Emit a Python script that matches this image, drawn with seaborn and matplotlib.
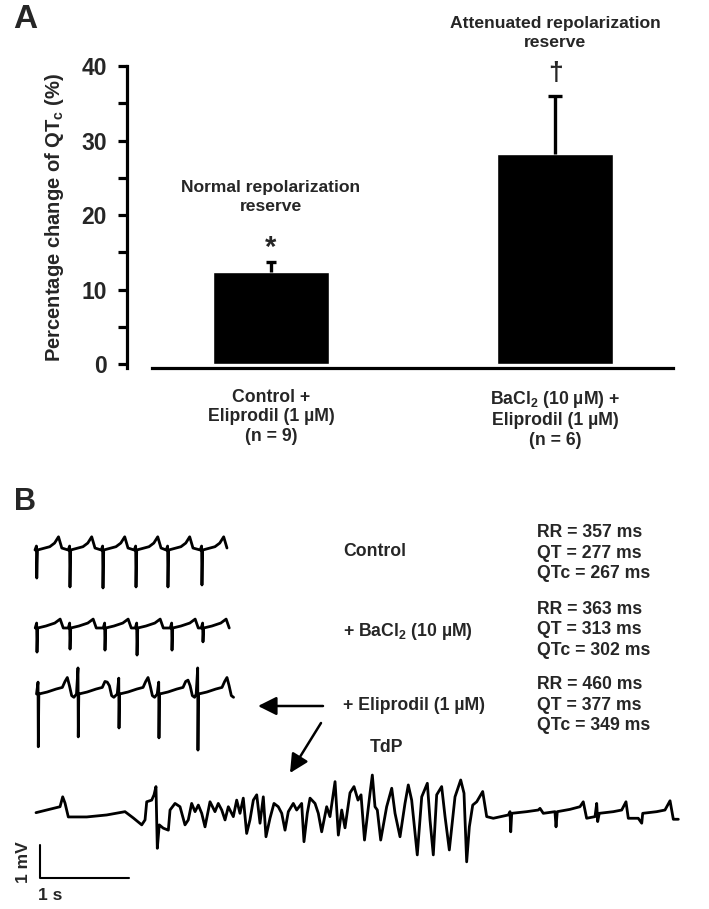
import numpy as np
import matplotlib
matplotlib.use("Agg")
import matplotlib.pyplot as plt
import seaborn as sns

# ---- Panel A data ----
categories = ["Control +\nEliprodil (1 \u00b5M)\n(n = 9)",
              "BaCl$_\\mathrm{2}$ (10 \u00b5M) +\nEliprodil (1 \u00b5M)\n(n = 6)"]
qtc_change = [12.4, 28.2]
qtc_sem = [1.3, 7.8]
y_ticks = [0, 10, 20, 30, 40]
y_minor = [5, 15, 25, 35]

# ---- Panel B data (time in s, voltage in mV relative to baseline) ----
# control: beat template around each R wave
ctrl_r_times = [0.02, 0.393, 0.764, 1.135, 1.494, 1.876]
ctrl_r_depth = [-0.85, -1.12, -1.15, -1.12, -1.12, -1.06]
ctrl_t_amp = [0.40, 0.40, 0.40, 0.40, 0.40, 0.40]
ctrl_tmpl_t = [-0.02, -0.004, 0.0, 0.008, 0.146, 0.20, 0.244, 0.281]
ctrl_tmpl_v = [0.0, 0.12, "bot", 0.0, 0.10, 0.21, "T", 0.06]

# BaCl2
ba_r_times = [0.045, 0.416, 0.809, 1.169, 1.562, 1.910]
ba_r_depth = [-0.73, -0.64, -0.67, -0.82, -0.67, -0.42]
ba_t_amp = [0.27, 0.27, 0.27, 0.27, 0.27, 0.27]
ba_tmpl_t = [-0.02, -0.004, 0.0, 0.008, 0.10, 0.20, 0.26, 0.295]
ba_tmpl_v = [0.0, 0.15, "bot", 0.0, 0.06, 0.15, "T", 0.0]

# BaCl2 + eliprodil
eli_r_times = [0.082, 0.531, 0.989, 1.438, 1.876]
eli_r_top = [0.36, 0.79, 0.48, 0.36, 0.79]
eli_r_depth = [-1.6, -1.3, -1.03, -1.33, -1.7]
eli_t_amp = [0.5, 0.36, 0.5, 0.42, 0.5]
eli_tmpl_t = [-0.02, -0.003, 0.0, 0.006, 0.10, 0.20, 0.27, 0.30, 0.326, 0.35, 0.375, 0.40]
eli_tmpl_v = [0.0, "top", "bot", 0.0, 0.06, 0.15, 0.2, 0.38, "T", 0.25, -0.05, -0.1]

# torsade de pointes episode
tdp_t = [0.000, 0.120, 0.270, 0.300, 0.326, 0.363, 0.570, 0.794, 1.000, 1.093,
         1.188, 1.225, 1.244, 1.300, 1.326, 1.348, 1.363, 1.385, 1.430, 1.487,
         1.506, 1.562, 1.618, 1.674, 1.711, 1.749, 1.787, 1.824, 1.862, 1.899,
         1.955, 2.011, 2.048, 2.087, 2.124, 2.161, 2.217, 2.255, 2.292, 2.329,
         2.367, 2.404, 2.442, 2.480, 2.517, 2.554, 2.584, 2.629, 2.674, 2.722,
         2.761, 2.798, 2.835, 2.891, 2.929, 2.985, 3.011, 3.048, 3.079, 3.135,
         3.172, 3.210, 3.266, 3.303, 3.360, 3.397, 3.435, 3.472, 3.528, 3.573,
         3.618, 3.652, 3.691, 3.753, 3.779, 3.809, 3.835, 3.873, 3.940, 3.997,
         4.034, 4.090, 4.146, 4.183, 4.221, 4.284, 4.334, 4.397, 4.427, 4.464,
         4.502, 4.558, 4.596, 4.644, 4.708, 4.772, 4.809, 4.839, 4.869, 4.907,
         4.952, 5.019, 5.064, 5.138, 5.307, 5.326, 5.334, 5.345, 5.513, 5.644,
         5.663, 5.700, 5.831, 5.843, 5.857, 6.000, 6.112, 6.149, 6.187, 6.281,
         6.300, 6.311, 6.329, 6.487, 6.581, 6.629, 6.655, 6.767, 6.806, 6.817,
         6.974, 7.067, 7.124, 7.161, 7.217]
tdp_v = [-0.02, 0.06, 0.16, 0.46, 0.27, -0.15, -0.15, -0.09, 0.01, -0.18,
         -0.39, -0.24, 0.31, 0.36, 0.52, 0.77, -1.10, -0.39, -0.49, -0.55,
         0.06, 0.26, 0.16, -0.39, -0.24, 0.26, 0.01, 0.21, -0.04, -0.45,
         0.31, 0.01, 0.26, 0.06, -0.24, 0.16, -0.14, 0.36, -0.04, 0.42,
         -0.65, -0.24, 0.36, 0.52, -0.34, 0.46, -0.75, -0.19, 0.26, 0.16,
         -0.04, -0.55, 0.01, 0.26, 0.06, 0.26, -0.90, -0.04, 0.42, 0.26,
         -0.04, -0.60, 0.16, -0.14, 0.92, -0.70, 0.06, -0.48, 0.58, 0.77,
         0.36, 0.52, -0.85, 0.57, 1.12, 0.16, 0.06, -0.85, 0.16, 0.72,
         -0.04, -0.75, 0.26, 0.82, 0.36, -1.30, 0.46, 0.87, -0.24, -1.30,
         0.52, 0.77, -0.14, -1.15, 0.46, 0.97, 0.57, -1.51, -0.45, 0.21,
         0.31, 0.62, -0.14, -0.19, -0.09, 0.01, -0.60, -0.04, 0.01, 0.06,
         0.11, -0.04, 0.01, -0.45, 0.01, 0.08, 0.16, 0.31, -0.19, -0.14,
         0.26, -0.29, -0.04, 0.01, 0.06, 0.31, -0.19, -0.19, -0.34, -0.04,
         0.01, 0.06, 0.34, -0.22, -0.22]

ctrl_text = "RR = 357 ms\nQT = 277 ms\nQTc = 267 ms"
ba_text = "RR = 363 ms\nQT = 313 ms\nQTc = 302 ms"
eli_text = "RR = 460 ms\nQT = 377 ms\nQTc = 349 ms"
scale_s = 1.0
scale_mv = 1.0


def beat_trace(r_times, tmpl_t, tmpl_v, tops, bots, t_amps):
    ts, vs = [], []
    for r, top, bot, ta in zip(r_times, tops, bots, t_amps):
        lookup = {"top": top, "bot": bot, "T": ta}
        for dt, v in zip(tmpl_t, tmpl_v):
            ts.append(r + dt)
            vs.append(lookup[v] if isinstance(v, str) else v)
    return np.array(ts), np.array(vs)


sns.set_style("white")
plt.rcParams["font.family"] = ["Liberation Sans", "DejaVu Sans"]
plt.rcParams["font.weight"] = "bold"
plt.rcParams["mathtext.fontset"] = "custom"
plt.rcParams["mathtext.rm"] = "Liberation Sans:bold"
plt.rcParams["mathtext.it"] = "Liberation Sans:bold"
plt.rcParams["mathtext.bf"] = "Liberation Sans:bold"

W, H = 709, 909
fig = plt.figure(figsize=(W / 100, H / 100), dpi=100)


def fx(px):
    return px / W


def fy(py):
    return 1 - py / H


# ---- Panel A ----
ax = fig.add_axes([fx(127), fy(368), fx(673) - fx(127), (368 - 66) / H])
sns.barplot(x=categories, y=qtc_change, color="black", width=0.41,
            errorbar=None, ax=ax, saturation=1)
# upper-only error bars, cap width differs a little between the two bars
for i, cap in enumerate([3.3, 5.0]):
    eb = ax.errorbar(x=[i], y=[qtc_change[i]], yerr=[[0], [qtc_sem[i]]],
                     fmt="none", ecolor="black", elinewidth=2.4,
                     capsize=cap, capthick=2.4)
    eb[1][0].set_visible(False)  # hide lower cap
ax.set_xlim(-0.507, 1.415)
ax.set_ylim(-0.5, 40)
for s in ["top", "right"]:
    ax.spines[s].set_visible(False)
for s in ["left", "bottom"]:
    ax.spines[s].set_linewidth(2.3)
    ax.spines[s].set_color("black")
ax.spines["bottom"].set_bounds(-0.419, 1.415)
ax.set_yticks(y_ticks)
ax.set_yticks(y_minor, minor=True)
ax.tick_params(axis="y", which="both", direction="out", length=6.5, width=2.3,
               labelsize=16.5, pad=8, left=True, color="black")
ax.tick_params(axis="x", length=0, labelsize=12.7, pad=15)
for lbl in ax.get_xticklabels():
    lbl.set_linespacing(1.2)
    lbl.set_fontweight("bold")
for lbl in ax.get_yticklabels():
    lbl.set_fontweight("bold")
ax.set_ylabel("Percentage change of QT$_\\mathrm{c}$ (%)", fontsize=14.5,
              fontweight="bold", labelpad=11)

ax.text(0, 22.4, "Normal repolarization\nreserve", ha="center", va="center",
        fontsize=12.6, fontweight="bold", linespacing=1.3)
ax.text(0, 15.6, "*", ha="center", va="center", fontsize=21, fontweight="bold")
ax.text(1, 44.4, "Attenuated repolarization\nreserve", ha="center", va="center",
        fontsize=12.6, fontweight="bold", linespacing=1.3, clip_on=False)
ax.text(1, 39.1, "\u2020", ha="center", va="center", fontsize=19,
        fontweight="bold", clip_on=False)

fig.text(fx(13), fy(19), "A", fontsize=24, fontweight="bold", va="center")
fig.text(fx(14), fy(502), "B", fontsize=22, fontweight="bold", va="center")

# ---- Panel B ----
axb = fig.add_axes([0, 0, 1, 0.49])
px_per_s, px_per_mv = 89.0, 33.0
axb.set_xlim(0, W / px_per_s)
axb.set_ylim(0, 0.49 * H / px_per_mv)
axb.axis("off")


def place(ts, vs, x0_px, base_px):
    return (np.asarray(ts) + x0_px / px_per_s,
            np.asarray(vs) + (H - base_px) / px_per_mv)


lw = 2.0
traces = [
    (beat_trace(ctrl_r_times, ctrl_tmpl_t, ctrl_tmpl_v,
                [0] * 6, ctrl_r_depth, ctrl_t_amp), 35, 550),
    (beat_trace(ba_r_times, ba_tmpl_t, ba_tmpl_v,
                [0] * 6, ba_r_depth, ba_t_amp), 33, 628),
    (beat_trace(eli_r_times, eli_tmpl_t, eli_tmpl_v,
                eli_r_top, eli_r_depth, eli_t_amp), 31, 694),
    ((np.array(tdp_t), np.array(tdp_v)), 36, 812),
]
for (ts, vs), x0, base in traces:
    xx, yy = place(ts, vs, x0, base)
    sns.lineplot(x=xx, y=yy, sort=False, estimator=None, color="black",
                 lw=lw, ax=axb)

# scale bars
sx, sy = place([0, 0, scale_s], [scale_mv, 0, 0], 40, 878)
sns.lineplot(x=sx, y=sy, sort=False, estimator=None, color="black", lw=1.5,
             ax=axb)
fig.text(fx(23), fy(862), "1 mV", rotation=90, ha="center", va="center",
         fontsize=12.5, fontweight="bold")
fig.text(fx(38), fy(895), "1 s", ha="left", va="center", fontsize=12.5,
         fontweight="bold")

# condition labels and interval values
fig.text(fx(343), fy(551), "Control", ha="left", va="center", fontsize=12.7)
fig.text(fx(343), fy(631), "+ BaCl$_\\mathrm{2}$ (10 \u00b5M)", ha="left",
         va="center", fontsize=12.7)
fig.text(fx(343), fy(706), "+ Eliprodil (1 \u00b5M)", ha="left", va="center",
         fontsize=12.7)
fig.text(fx(370), fy(748), "TdP", ha="left", va="center", fontsize=12.7)
for txt, yc in [(ctrl_text, 553), (ba_text, 630), (eli_text, 705)]:
    fig.text(fx(537), fy(yc), txt, ha="left", va="center", fontsize=12.7,
             linespacing=1.3)

arrow_kw = dict(arrowstyle="-|>,head_length=0.7,head_width=0.35",
                mutation_scale=16, lw=1.8, color="black", shrinkA=0, shrinkB=0)
axb.annotate("", xy=(fx(258), fy(706)), xytext=(fx(323), fy(706)),
             xycoords="figure fraction", textcoords="figure fraction",
             arrowprops=arrow_kw)
axb.annotate("", xy=(fx(290), fy(773)), xytext=(fx(321), fy(723)),
             xycoords="figure fraction", textcoords="figure fraction",
             arrowprops=arrow_kw)

fig.savefig("out.png", dpi=100, facecolor="white")
